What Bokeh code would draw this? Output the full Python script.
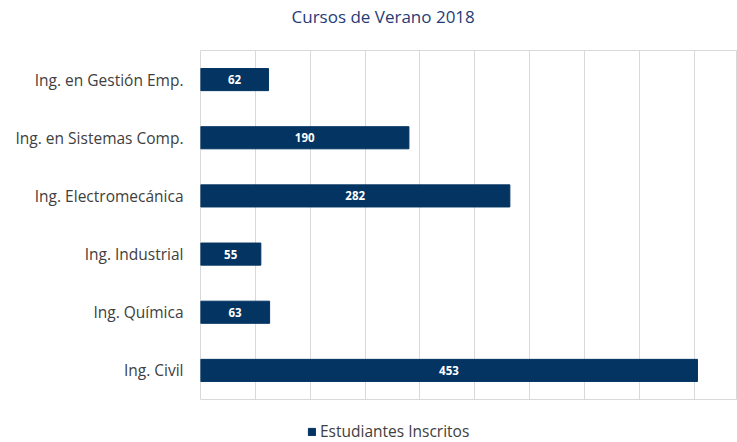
from bokeh.plotting import figure
from bokeh.layouts import column
from bokeh.models import (ColumnDataSource, FactorRange, Range1d, FixedTicker,
                          LabelSet, Legend, LegendItem, Label)
from bokeh.embed import file_html
from bokeh.resources import INLINE
from bokeh.core.properties import value

categories = ["Ing. en Gestión Emp.", "Ing. en Sistemas Comp.", "Ing. Electromecánica",
              "Ing. Industrial", "Ing. Química", "Ing. Civil"]
inscritos = [62, 190, 282, 55, 63, 453]
x_ticks = [0, 50, 100, 150, 200, 250, 300, 350, 400, 450]
series_name = "Estudiantes Inscritos"
title_text = "Cursos de Verano 2018"

BAR = "#033462"
FONT = "Open Sans"


def strip(h):
    f = figure(width=737, height=h, output_backend="svg", toolbar_location=None,
               x_range=Range1d(0, 537), y_range=Range1d(0, h),
               x_axis_location=None, y_axis_location=None,
               min_border_left=0, min_border_right=0, min_border_top=0,
               min_border_bottom=0)
    f.xgrid.visible = False
    f.ygrid.visible = False
    f.outline_line_color = None
    f.background_fill_color = "white"
    f.border_fill_color = "white"
    return f


# title strip above the chart
tt = strip(50)
tt.add_layout(Label(x=91, y=34, text=title_text, text_font=FONT,
                    text_font_size="17px", text_color="#1F3C78",
                    text_align="left", text_baseline="middle"))

src = ColumnDataSource(dict(
    cat=categories,
    val=inscritos,
    mid=[v / 2 for v in inscritos],
    lab=[str(v) for v in inscritos],
))

p = figure(width=737, height=350, output_backend="svg", toolbar_location=None,
           y_range=FactorRange(*reversed(categories)), x_range=Range1d(0, 489.5),
           min_border_left=200, min_border_right=0, min_border_top=0,
           min_border_bottom=1)
p.title.visible = False

p.hbar(y="cat", right="val", left=0, height=0.38, source=src,
       fill_color=BAR, line_color=BAR)

labels = LabelSet(x="mid", y="cat", text="lab", source=src, text_color="white",
                  text_font=value(FONT), text_font_style="bold",
                  text_font_size="11.5px", text_align="center",
                  text_baseline="middle")
p.add_layout(labels)

p.xaxis.visible = False
p.xgrid.ticker = FixedTicker(ticks=x_ticks)
p.xgrid.grid_line_color = "#d9d9d9"
p.ygrid.grid_line_color = None

p.yaxis.axis_line_color = None
p.yaxis.major_tick_line_color = None
p.yaxis.minor_tick_line_color = None
p.yaxis.major_tick_out = 0
p.yaxis.major_label_text_font = FONT
p.yaxis.major_label_text_font_size = "15.5px"
p.yaxis.major_label_text_color = "#404040"
p.yaxis.major_label_standoff = 17

p.outline_line_color = "#d9d9d9"
p.outline_line_width = 1
p.background_fill_color = "white"
p.border_fill_color = "white"

# legend strip below the chart
lg = strip(42)
key = lg.hbar(y=[-10], right=[0], left=0, height=0.5, fill_color=BAR, line_color=BAR)
legend = Legend(items=[LegendItem(label=series_name, renderers=[key])],
                location=(107, 0), orientation="horizontal",
                label_text_font=FONT, label_text_font_size="15.5px",
                label_text_color="#404040", glyph_width=9, glyph_height=9,
                label_standoff=4, padding=0, margin=0, border_line_color=None,
                background_fill_alpha=0)
lg.add_layout(legend)

open("out.html", "w").write(file_html(column(tt, p, lg, spacing=0), INLINE))
